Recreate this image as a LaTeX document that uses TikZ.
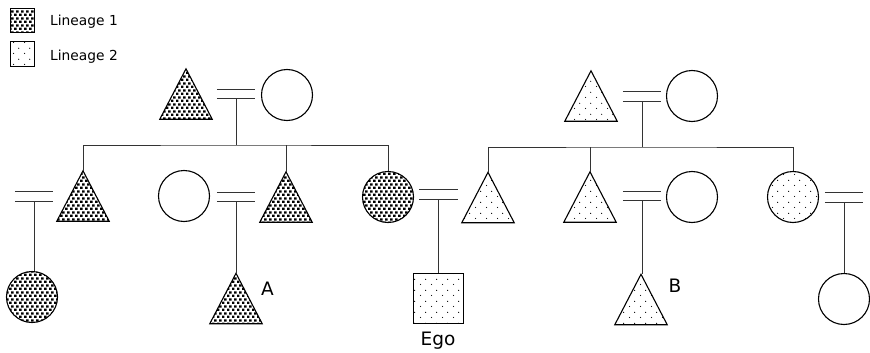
\documentclass[tikz,border=0pt]{standalone}
\usepackage{fontspec}
\setmainfont{DejaVu Sans}
\usetikzlibrary{patterns}
\pgfdeclarepatternformonly{linone}{\pgfqpoint{0pt}{0pt}}{\pgfqpoint{4.6pt}{7.2pt}}{\pgfqpoint{4.6pt}{7.2pt}}{%
  \pgfpathrectangle{\pgfqpoint{0pt}{0pt}}{\pgfqpoint{2.7pt}{2.7pt}}%
  \pgfpathrectangle{\pgfqpoint{2.3pt}{3.6pt}}{\pgfqpoint{2.7pt}{2.7pt}}%
  \pgfusepath{fill}}
\pgfdeclarepatternformonly{lintwo}{\pgfqpoint{0pt}{0pt}}{\pgfqpoint{11pt}{11pt}}{\pgfqpoint{11pt}{11pt}}{%
  \pgfpathcircle{\pgfqpoint{2.75pt}{2.75pt}}{0.65pt}%
  \pgfpathcircle{\pgfqpoint{8.25pt}{8.25pt}}{0.65pt}%
  \pgfusepath{fill}}
\tikzset{
  shapeline/.style={draw=black, line width=1.1pt},
  conn/.style={draw=black!80, line width=0.9pt},
  dbl/.style={draw=black!80, line width=1pt},
  tribase/.style={rectangle, inner sep=0pt, minimum width=52pt, minimum height=50pt},
  trione/.style={tribase, append after command={\pgfextra{\draw[shapeline, pattern=linone] (\tikzlastnode.north) -- (\tikzlastnode.south east) -- (\tikzlastnode.south west) -- cycle;}}},
  tritwo/.style={tribase, append after command={\pgfextra{\draw[shapeline, pattern=lintwo] (\tikzlastnode.north) -- (\tikzlastnode.south east) -- (\tikzlastnode.south west) -- cycle;}}},
  circ/.style={circle, shapeline, inner sep=0pt, minimum size=51pt},
  circone/.style={circ, pattern=linone},
  circtwo/.style={circ, pattern=lintwo},
  sqtwo/.style={rectangle, draw=black, line width=1pt, pattern=lintwo, inner sep=0pt, minimum size=50pt},
  legbox/.style={rectangle, draw=black, line width=0.7pt, inner sep=0pt, minimum size=24.5pt},
  legtext/.style={anchor=west, inner sep=0pt, font=\fontsize{13.8}{16}\selectfont},
  lab/.style={inner sep=0pt, anchor=base west, font=\fontsize{18.5}{22}\selectfont},
  marr/.style={rectangle, inner sep=0pt, minimum width=38pt, minimum height=9.5pt,
    append after command={\pgfextra{\draw[dbl] (\tikzlastnode.north west) -- (\tikzlastnode.north east) (\tikzlastnode.south west) -- (\tikzlastnode.south east);}}},
}
\begin{document}
\begin{tikzpicture}[x=1pt, y=-1pt]
\useasboundingbox (0,0) rectangle (870,353);
% legend
\node[legbox, pattern=linone] (k1) at (22.5,20.5) {};
\node[legtext] (k1t) at (50,22) {Lineage 1};
\node[legbox, pattern=lintwo] (k2) at (22.5,54) {};
\node[legtext] (k2t) at (50,57) {Lineage 2};
% generation 1, left
\node[trione] (gp1) at (186,94) {};
\node[circ] (gm1) at (287,95) {};
\node[marr] (m1) at (236,94) {};
\coordinate (s1) at (236,145);
% generation 1, right
\node[tritwo] (gp2) at (591,96) {};
\node[circ] (gm2) at (692,96) {};
\node[marr] (m2) at (642,96.5) {};
\coordinate (s2) at (642,147);
% generation 2
\node[trione] (c1) at (83,196) {};
\node[marr] (mL) at (34,196.5) {};
\node[circone] (g3) at (32,297) {};
\node[circ] (w2) at (184,196) {};
\node[marr] (mA) at (236,197) {};
\node[trione] (c2) at (286,197) {};
\node[trione] (A) at (236,298.5) {};
\node[circone] (c3) at (388,197) {};
\node[marr] (mE) at (438.5,194.5) {};
\node[sqtwo] (ego) at (438,298) {};
\node[tritwo] (c4) at (488,197.5) {};
\node[tritwo] (c5) at (590,197) {};
\node[marr] (mB) at (642,196) {};
\node[circ] (w5) at (692,197) {};
\node[tritwo] (B) at (641,299.5) {};
\node[circtwo] (c6) at (793,197) {};
\node[marr] (mR) at (844,197.5) {};
\node[circ] (g6) at (844,299) {};
% labels
\node[lab] (Alab) at (261,295) {A};
\node[lab] (Blab) at (668.5,292.5) {B};
\node[lab, anchor=base] (egolab) at (438,345) {Ego};
% connectors
\draw[conn] (m1.south) -- (s1);
\draw[conn] (c1.north) |- (s1) -| (c3.north);
\draw[conn] (c2.north) -- (c2.north |- s1);
\draw[conn] (m2.south) -- (s2);
\draw[conn] (c4.north) |- (s2) -| (c6.north);
\draw[conn] (c5.north) -- (c5.north |- s2);
\draw[conn] (mL.south) -- (mL.south |- g3.north);
\draw[conn] (mA.south) -- (A.north);
\draw[conn] (mE.south) -- (mE.south |- ego.north);
\draw[conn] (mB.south) -- (mB.south |- B.north);
\draw[conn] (mR.south) -- (g6.north);
\end{tikzpicture}
\end{document}
